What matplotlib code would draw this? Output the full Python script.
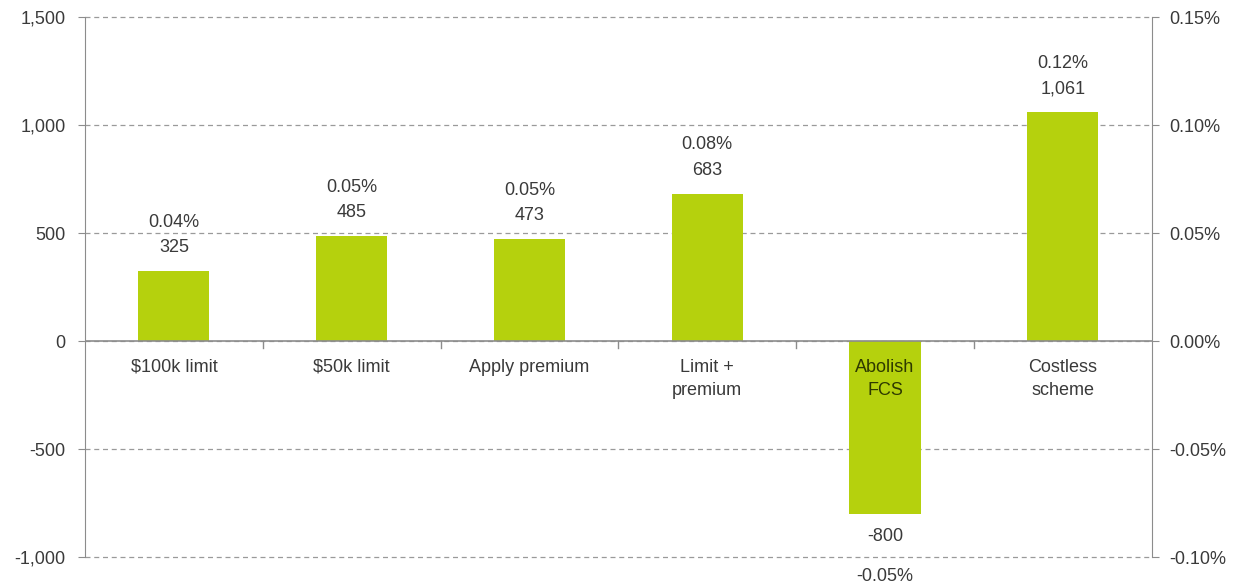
import matplotlib.pyplot as plt
from matplotlib.ticker import FuncFormatter

plt.rcParams['font.family'] = ['Liberation Sans', 'DejaVu Sans']

categories = ['$100k limit', '$50k limit', 'Apply premium', 'Limit +\npremium', 'Abolish\nFCS', 'Costless\nscheme']
values = [325, 485, 473, 683, -800, 1061]
pct = [0.04, 0.05, 0.05, 0.08, -0.05, 0.12]

bar_color = '#b5d10d'
txt = '#3a3a3a'
axis_gray = '#8c8c8c'
fs = 13

fig = plt.figure(figsize=(12.41, 5.87), dpi=100)
ax = fig.add_axes([0.0685, 0.051, 0.8595, 0.92])
x = list(range(len(categories)))
ax.bar(x, values, width=0.4, color=bar_color, zorder=3)

ax.set_xlim(-0.5, len(categories) - 0.5)
ax.set_ylim(-1000, 1500)
ax.set_yticks([-1000, -500, 0, 500, 1000, 1500])
ax.yaxis.set_major_formatter(FuncFormatter(lambda v, p: f'{v:,.0f}'))
ax.grid(axis='y', linestyle=(0, (4, 3)), color='#9a9a9a', linewidth=0.9, zorder=0)
for gl in ax.get_ygridlines():
    gl.set_clip_on(False)
ax.axhline(0, color=axis_gray, linewidth=1.2, zorder=4)

for s in ['top', 'bottom', 'right']:
    ax.spines[s].set_visible(False)
ax.spines['left'].set_color(axis_gray)
ax.tick_params(axis='y', colors=axis_gray, labelcolor=txt, labelsize=fs, length=5, pad=9)
ax.set_xticks([])

# category boundary tick marks on the zero line
for b in [i + 0.5 for i in x[:-1]]:
    ax.plot([b, b], [0, -30], color=axis_gray, linewidth=1, zorder=4)

for i, (c, v, p) in enumerate(zip(categories, values, pct)):
    col = txt if v >= 0 else '#2e3a00'
    ax.text(i, -82, c, ha='center', va='top', fontsize=fs, color=col, linespacing=1.5, zorder=5)
    if v >= 0:
        ax.text(i, v + 108, f'{v:,}', ha='center', va='center', fontsize=fs, color=txt)
        ax.text(i, v + 225, f'{p:.2f}%', ha='center', va='center', fontsize=fs, color=txt)
    else:
        ax.text(i, v - 105, f'{v:,}', ha='center', va='center', fontsize=fs, color=txt)
        ax.text(i, v - 290, f'{p:.2f}%', ha='center', va='center', fontsize=fs, color=txt, clip_on=False)

ax2 = ax.twinx()
ax2.set_ylim(-0.10, 0.15)
ax2.set_yticks([-0.10, -0.05, 0.0, 0.05, 0.10, 0.15])
ax2.yaxis.set_major_formatter(FuncFormatter(lambda v, p: f'{v:.2f}%'))
for s in ['top', 'bottom', 'left']:
    ax2.spines[s].set_visible(False)
ax2.spines['right'].set_color(axis_gray)
ax2.tick_params(axis='y', colors=axis_gray, labelcolor=txt, labelsize=fs, length=5, pad=8)

fig.savefig('out.png', dpi=100, facecolor='white')
